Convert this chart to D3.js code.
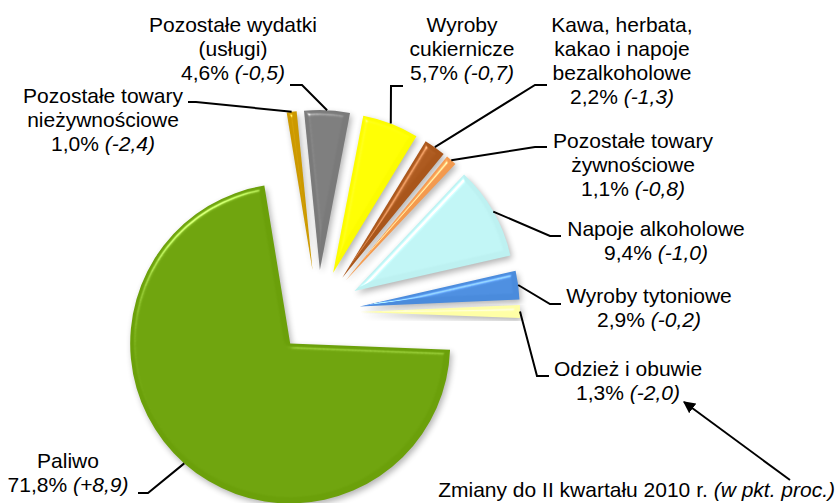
<!DOCTYPE html>
<html>
<head>
<meta charset="utf-8">
<script src="https://cdn.jsdelivr.net/npm/d3@7"></script>
<style>
    html, body { margin: 0; padding: 0; background: #fff; }
    svg text { font-family: Arial, 'Liberation Sans', sans-serif; font-size: 21px; fill: #000; }
</style>
</head>
<body>
<svg id="chart"></svg>
<script>
// Data, clockwise from the thin orange slice at the top.
const categories = [
    'Pozostałe towary nieżywnościowe',
    'Pozostałe wydatki (usługi)',
    'Wyroby cukiernicze',
    'Kawa, herbata, kakao i napoje bezalkoholowe',
    'Pozostałe towary żywnościowe',
    'Napoje alkoholowe',
    'Wyroby tytoniowe',
    'Odzież i obuwie',
    'Paliwo',
];
const shares = [1.0, 4.6, 5.7, 2.2, 1.1, 9.4, 2.9, 1.3, 71.8];
const changes = ['-2,4', '-0,5', '-0,7', '-1,3', '-0,8', '-1,0', '-0,2', '-2,0', '+8,9'];
const labelLines = [
    ['Pozostałe towary', 'nieżywnościowe'],
    ['Pozostałe wydatki', '(usługi)'],
    ['Wyroby', 'cukiernicze'],
    ['Kawa, herbata,', 'kakao i napoje', 'bezalkoholowe'],
    ['Pozostałe towary', 'żywnościowe'],
    ['Napoje alkoholowe'],
    ['Wyroby tytoniowe'],
    ['Odzież i obuwie'],
    ['Paliwo'],
];
const note = 'Zmiany do II kwartału 2010 r. ';
const noteItalic = '(w pkt. proc.)';

// Styles and layout.
const colors = ['#cc9900', '#7a7a7a', '#fcfc00', '#a9561b', '#f39a4f', '#bdf1f1', '#4a8bdc', '#ffffa6', '#6ba00a'];
const width = 837;
const height = 503;
const cx = 318;
const cy = 312;
const radius = 160;
const explode = 42;
const startDeg = -9.3;
const lineHeight = 24;

// Label anchor (centre x, first baseline) and leader elbow points (from text to slice).
const labelLayout = [
    { x: 103, y: 103, leader: [[188, 102], [196, 102]] },
    { x: 233, y: 32, leader: [[290, 85], [302, 85]] },
    { x: 462, y: 32, leader: [[403, 86], [391, 86]] },
    { x: 622, y: 32, leader: [[547, 85], [535, 85]] },
    { x: 633, y: 148, leader: [[547, 147], [535, 147]] },
    { x: 656, y: 236, leader: [[561, 236], [550, 236]] },
    { x: 649, y: 303, leader: [[561, 304], [550, 304]] },
    { x: 628, y: 376, leader: [[549, 376], [537, 376]] },
    { x: 68, y: 468, leader: [[138, 493], [148, 493]] },
];

const svg = d3.select('#chart').attr('width', width).attr('height', height);
const defs = svg.append('defs');

// Soft bevel + drop shadow, roughly like the office chart effect.
const bevel = defs.append('filter').attr('id', 'bevel')
    .attr('color-interpolation-filters', 'sRGB')
    .attr('x', '-20%').attr('y', '-20%').attr('width', '140%').attr('height', '140%');
bevel.append('feGaussianBlur').attr('in', 'SourceAlpha').attr('stdDeviation', 2.5).attr('result', 'blur');
const spec = bevel.append('feSpecularLighting')
    .attr('in', 'blur').attr('surfaceScale', 4).attr('specularConstant', 0.45)
    .attr('specularExponent', 35).attr('lighting-color', '#ffffff').attr('result', 'spec');
spec.append('feDistantLight').attr('azimuth', 235).attr('elevation', 42);
bevel.append('feComposite').attr('in', 'spec').attr('in2', 'SourceAlpha').attr('operator', 'in').attr('result', 'specIn');
bevel.append('feComposite').attr('in', 'SourceGraphic').attr('in2', 'specIn')
    .attr('operator', 'arithmetic').attr('k1', 0).attr('k2', 1).attr('k3', 1).attr('k4', 0).attr('result', 'lit');
bevel.append('feGaussianBlur').attr('in', 'SourceAlpha').attr('stdDeviation', 3).attr('result', 'sblur');
bevel.append('feOffset').attr('in', 'sblur').attr('dx', 2).attr('dy', 3).attr('result', 'soff');
bevel.append('feComponentTransfer').attr('in', 'soff').attr('result', 'shadow')
    .append('feFuncA').attr('type', 'linear').attr('slope', 0.3);
const merge = bevel.append('feMerge');
merge.append('feMergeNode').attr('in', 'shadow');
merge.append('feMergeNode').attr('in', 'lit');

defs.append('marker')
    .attr('id', 'arrow')
    .attr('viewBox', '0 0 10 10')
    .attr('refX', 9).attr('refY', 5)
    .attr('markerWidth', 6).attr('markerHeight', 6)
    .attr('orient', 'auto')
    .append('path').attr('d', 'M0,0L10,5L0,10z').attr('fill', '#000');

const start = (startDeg * Math.PI) / 180;
const pie = d3.pie().sort(null).startAngle(start).endAngle(start + 2 * Math.PI);
const arcs = pie(shares);
const arc = d3.arc().innerRadius(0).outerRadius(radius);

// Direction of a slice's bisector (d3 angles: clockwise from 12 o'clock).
const dir = a => [Math.sin(a), -Math.cos(a)];
const mid = d => (d.startAngle + d.endAngle) / 2;

// Slices, each pulled out along its bisector.
svg.append('g')
    .selectAll('path')
    .data(arcs)
    .join('path')
    .attr('transform', d => {
        const [dx, dy] = dir(mid(d));
        return `translate(${cx + dx * explode}, ${cy + dy * explode})`;
    })
    .attr('d', arc)
    .attr('fill', (d, i) => colors[i])
    .attr('filter', 'url(#bevel)');

// Leader lines from the label to the middle of the slice's outer arc.
const line = d3.line();
svg.append('g')
    .selectAll('path')
    .data(arcs)
    .join('path')
    .attr('d', (d, i) => {
        const [dx, dy] = dir(mid(d));
        const end = [cx + dx * (explode + radius), cy + dy * (explode + radius)];
        return line([...labelLayout[i].leader, end]);
    })
    .attr('fill', 'none')
    .attr('stroke', '#000')
    .attr('stroke-width', 2);

// Labels.
const labels = svg.append('g')
    .selectAll('text')
    .data(arcs)
    .join('text')
    .attr('text-anchor', 'middle')
    .attr('x', (d, i) => labelLayout[i].x)
    .attr('y', (d, i) => labelLayout[i].y);

labels.each(function (d, i) {
    const t = d3.select(this);
    const { x } = labelLayout[i];
    labelLines[i].forEach((txt, j) => {
        t.append('tspan').attr('x', x).attr('dy', j === 0 ? 0 : lineHeight).text(txt);
    });
    t.append('tspan').attr('x', x).attr('dy', lineHeight).text(`${shares[i].toFixed(1).replace('.', ',')}% `);
    t.append('tspan').attr('font-style', 'italic').text(`(${changes[i]})`);
});

// Note with arrow pointing at a change value.
svg.append('line')
    .attr('x1', 790).attr('y1', 480)
    .attr('x2', 684).attr('y2', 402)
    .attr('stroke', '#000')
    .attr('stroke-width', 2)
    .attr('marker-end', 'url(#arrow)');

const noteText = svg.append('text').attr('x', 835).attr('y', 497).attr('text-anchor', 'end');
noteText.append('tspan').text(note);
noteText.append('tspan').attr('font-style', 'italic').text(noteItalic);
</script>
</body>
</html>
